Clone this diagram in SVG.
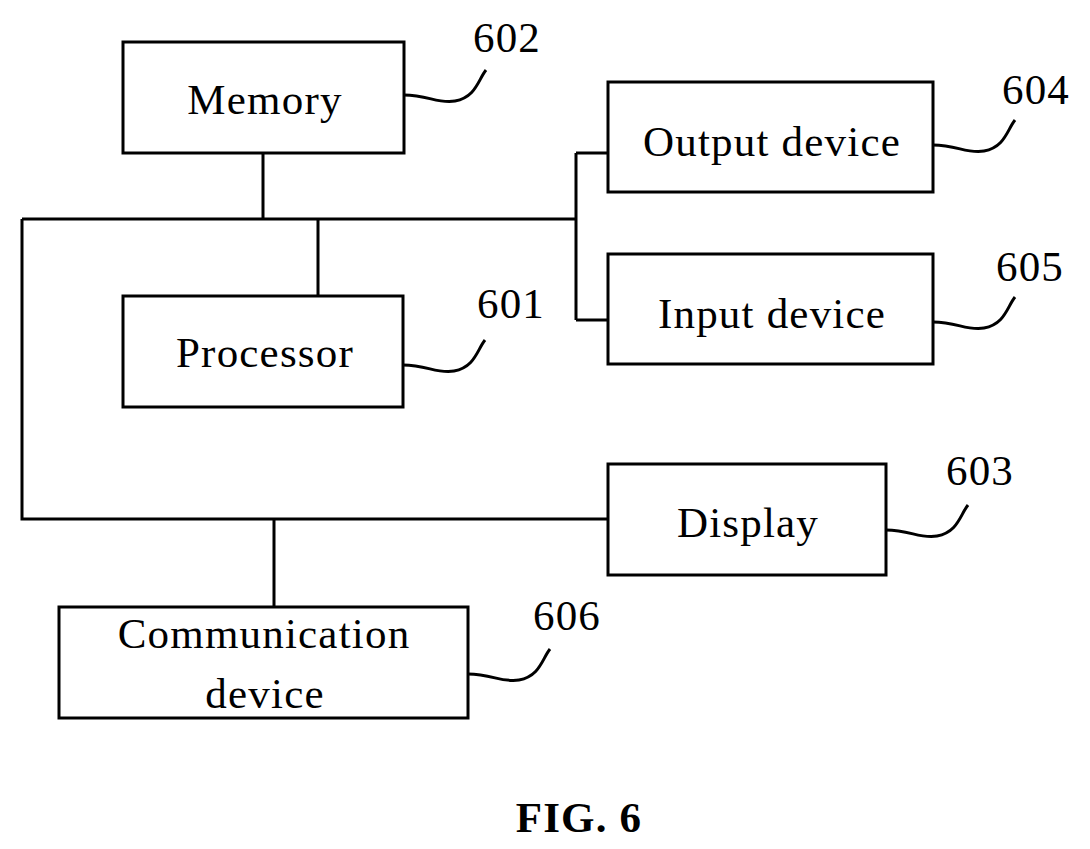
<svg xmlns="http://www.w3.org/2000/svg" width="1090" height="849" viewBox="0 0 1090 849">
<style>
.b{fill:#fff;stroke:#000;stroke-width:3}
.l{fill:none;stroke:#000;stroke-width:3}
text{font-family:"Liberation Serif",serif;font-size:43px;letter-spacing:1.2px;fill:#000;text-anchor:middle}
</style>
<rect width="1090" height="849" fill="#fff"/>
<g id="connectors">
<path class="l" d="M22,219H576M263,153V219M318,219V296M576,153V320M576,153H608M576,320H608M22,219V519H608M274,519V607"/>
<path class="l" d="M404,95C428,95 438,104 455,101C476,97 478,80 486,70"/>
<path class="l" d="M933,145C957,145 967,154 984,151C1005,147 1007,130 1015,120"/>
<path class="l" d="M933,322C957,322 967,331 984,328C1005,324 1007,307 1015,297"/>
<path class="l" d="M403,365C427,365 437,374 454,371C475,367 477,350 485,340"/>
<path class="l" d="M886,530C910,530 920,539 937,536C958,532 960,515 968,505"/>
<path class="l" d="M468,674C492,674 502,683 519,680C540,676 542,659 550,649"/>
</g>
<g id="memory"><rect class="b" x="123" y="42" width="281" height="111"/><text x="265" y="114">Memory</text></g>
<g id="output"><rect class="b" x="608" y="82" width="325" height="110"/><text x="772" y="156">Output device</text></g>
<g id="input"><rect class="b" x="608" y="254" width="325" height="110"/><text x="772" y="328">Input device</text></g>
<g id="processor"><rect class="b" x="123" y="296" width="280" height="111"/><text x="265" y="367">Processor</text></g>
<g id="display"><rect class="b" x="608" y="464" width="278" height="111"/><text x="748" y="537">Display</text></g>
<g id="comm"><rect class="b" x="59" y="607" width="409" height="111"/><text x="264" y="648">Communication</text><text x="265" y="708">device</text></g>
<g id="labels">
<text x="507" y="52">602</text>
<text x="1036" y="104">604</text>
<text x="1030" y="281">605</text>
<text x="511" y="318">601</text>
<text x="980" y="485">603</text>
<text x="567" y="630">606</text>
<text x="579" y="832" font-weight="bold">FIG. 6</text>
</g>
</svg>
